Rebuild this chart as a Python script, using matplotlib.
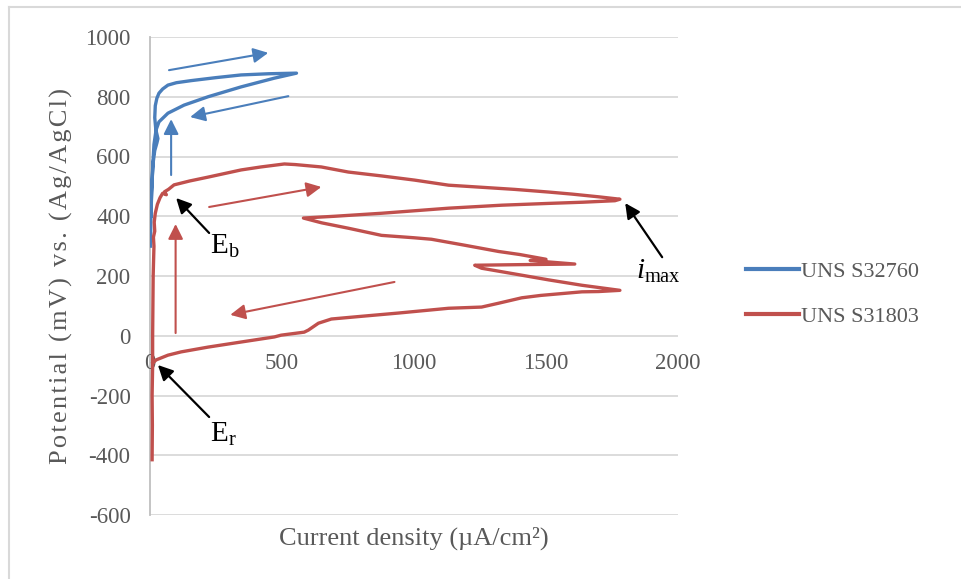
import matplotlib
matplotlib.use("Agg")
import matplotlib.pyplot as plt
from matplotlib.lines import Line2D

plt.rcParams["font.family"] = ["Liberation Serif", "DejaVu Serif"]
plt.rcParams["mathtext.fontset"] = "custom"
plt.rcParams["mathtext.rm"] = "Liberation Serif"
plt.rcParams["mathtext.it"] = "Liberation Serif:italic"

# Cyclic polarisation curves: current density (uA/cm2) vs potential (mV)
s32760_i = [2, 3, 5, 8, 12, 18, 26, 30, 22, 18, 20, 26, 34, 48, 68, 100, 156, 250, 345, 450, 555,
            470, 345, 220, 129, 68, 34, 23, 15, 10, 6, 4]
s32760_e = [300, 380, 450, 520, 580, 620, 645, 660, 690, 730, 770, 795, 812, 826, 839, 847, 854, 864, 873, 877, 879,
            862, 833, 800, 772, 745, 716, 689, 640, 560, 480, 400]

s31803_i = [8, 9, 8, 10, 10, 11, 12, 15, 13, 18, 16, 20, 28, 38, 48, 62, 55, 70, 91, 150, 220, 345, 420, 509,
            550, 649, 751, 877, 1002, 1131, 1256, 1380, 1510, 1600, 1700, 1780, 1761, 1640, 1510, 1332, 1131,
            877, 700, 581, 650, 751, 877, 1000, 1066, 1192, 1321, 1400, 1500, 1440, 1609, 1400, 1230, 1256,
            1380, 1510, 1636, 1780, 1700, 1636, 1571, 1480, 1408, 1321, 1256, 1131, 941, 800, 687, 638, 600,
            584, 497, 471, 345, 220, 118, 68, 23, 11]
s31803_e = [-415, -300, -200, -100, 0, 100, 200, 300, 330, 350, 380, 410, 440, 462, 477, 472, 482, 490, 505,
            518, 531, 555, 565, 575, 573, 565, 548, 535, 521, 504, 497, 490, 481, 474, 465, 457, 452, 447, 443,
            437, 427, 410, 400, 394, 378, 360, 336, 328, 323, 303, 282, 272, 256, 252, 240, 238, 236, 226, 207,
            187, 169, 152, 148, 147, 142, 135, 127, 109, 96, 92, 76, 65, 56, 42, 19, 12, 2, -4, -21, -38, -54,
            -65, -81, -91]

series_names = ["UNS S32760", "UNS S31803"]
x_ticks = [0, 500, 1000, 1500, 2000]
y_ticks = [-600, -400, -200, 0, 200, 400, 600, 800, 1000]

BLUE = "#4a7ebb"
RED = "#c0504d"
GREY_TXT = "#595959"

W, H = 961, 579
fig = plt.figure(figsize=(W / 100, H / 100), dpi=100)
ax = fig.add_axes([150 / W, 1 - 515 / H, (678 - 150) / W, (515 - 37) / H])

# chart-area frame (left and top edges)
fig.add_artist(Line2D([9 / W, 9 / W], [0, 1 - 7 / H], transform=fig.transFigure, color="#d9d9d9", lw=1.5))
fig.add_artist(Line2D([9 / W, 1], [1 - 7 / H, 1 - 7 / H], transform=fig.transFigure, color="#d9d9d9", lw=1.5))

ax.set_xlim(0, 2000)
ax.set_ylim(-600, 1000)
for yv in y_ticks:
    ax.axhline(yv, color="#d9d9d9", lw=1.3, zorder=0)
for side in ["top", "right", "bottom"]:
    ax.spines[side].set_visible(False)
ax.spines["left"].set_color("#bfbfbf")
ax.spines["left"].set_linewidth(1.3)

ax.set_yticks(y_ticks)
ax.set_yticklabels([str(v) for v in y_ticks], fontsize=16.5, color=GREY_TXT)
ax.tick_params(axis="y", length=0, pad=14)
ax.set_xticks([])
for xv in x_ticks:
    ax.annotate(str(xv), xy=(xv, 0), xytext=(0, -20), textcoords="offset points",
                ha="center", va="center", fontsize=16.5, color=GREY_TXT)

ax.plot(s32760_i, s32760_e, color=BLUE, lw=2.4, solid_joinstyle="round", label=series_names[0], zorder=3)
ax.plot(s31803_i, s31803_e, color=RED, lw=2.4, solid_joinstyle="round", label=series_names[1], zorder=3)

# scan-direction arrows
def scan_arrow(x0, y0, x1, y1, color):
    ax.annotate("", xy=(x1, y1), xytext=(x0, y0),
                arrowprops=dict(arrowstyle="-|>,head_length=0.9,head_width=0.45", color=color, lw=1.5,
                                shrinkA=0, shrinkB=0), zorder=4)

scan_arrow(72, 889, 448, 947, BLUE)
scan_arrow(524, 802, 152, 732, BLUE)
scan_arrow(80, 538, 80, 725, BLUE)
scan_arrow(97, 9, 97, 374, RED)
scan_arrow(224, 431, 649, 498, RED)
scan_arrow(926, 180, 304, 70, RED)

# annotations
def call_out(label, tip, tail, text_pos, ha="left"):
    ax.annotate("", xy=tip, xytext=tail,
                arrowprops=dict(arrowstyle="-|>,head_length=0.9,head_width=0.45", color="black", lw=1.6,
                                shrinkA=0, shrinkB=0), zorder=5)
    ax.text(text_pos[0], text_pos[1], label, fontsize=21, color="black", ha=ha, va="center", zorder=5)

call_out(r"$\mathregular{E_b}$", (99, 461), (224, 344), (228, 300))
call_out(r"$\mathregular{E_r}$", (30, -98), (224, -272), (228, -330))
call_out(r"$\mathit{i}_\mathregular{max}$", (1800, 444), (1940, 263), (1840, 215))

ax.set_xlabel("Current density (\u00b5A/cm\u00b2)", fontsize=19, color=GREY_TXT)
ax.xaxis.set_label_coords(0.5, -0.025)
ylab = "\u200a".join("Potential (mV) vs. (Ag/AgCl)")
ax.set_ylabel(ylab, fontsize=19, color=GREY_TXT)
ax.yaxis.set_label_coords(-0.145, 0.5)

leg = fig.legend(loc="center left", bbox_to_anchor=(737 / W, 1 - 294 / H), frameon=False, fontsize=16,
                 handlelength=2.4, handletextpad=0.1, labelspacing=1.1, borderaxespad=0)
for t in leg.get_texts():
    t.set_color(GREY_TXT)
for l in leg.get_lines():
    l.set_linewidth(3)

fig.savefig("out.png", dpi=100)
